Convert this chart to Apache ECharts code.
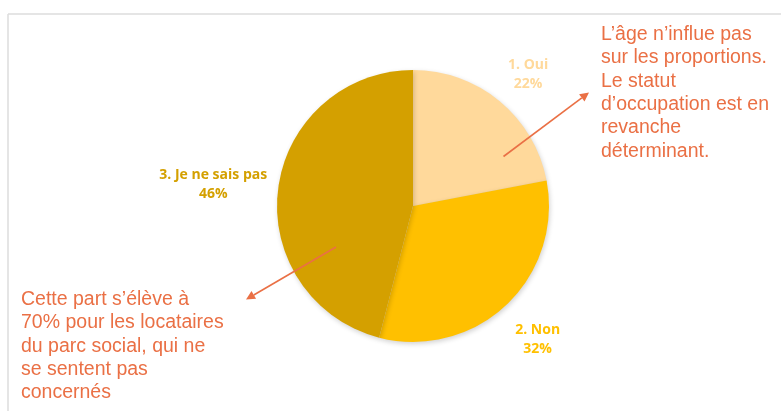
<!DOCTYPE html>
<html>
<head>
<meta charset="utf-8">
<script src="https://cdn.jsdelivr.net/npm/echarts@6/dist/echarts.min.js"></script>
<style>
  html, body { margin: 0; padding: 0; background: #ffffff; }
  #chart { width: 781px; height: 411px; }
</style>
</head>
<body>
<div id="chart"></div>
<script>
// Survey answers (percent of respondents)
const categories = ['1. Oui', '2. Non', '3. Je ne sais pas'];
const shares = [22, 32, 46];
const sliceColors = ['#FFD99B', '#FFC000', '#D4A000'];
const labelColors = ['#FFD99B', '#FFC000', '#D4A000'];

// Side notes
const noteRight = ['L’âge n’influe pas', 'sur les proportions.', 'Le statut', 'd’occupation est en', 'revanche', 'déterminant.'];
const noteLeft = ['Cette part s’élève à', '70% pour les locataires', 'du parc social, qui ne', 'se sentent pas', 'concernés'];

const CX = 413, CY = 206, R = 136;
const LABEL_GAP = 12.5;
const ACCENT = '#EA7045';
const total = shares.reduce((a, b) => a + b, 0);

// Mid angle of a slice, clockwise from 12 o'clock
function midAngle(i) {
  let before = 0;
  for (let k = 0; k < i; k++) before += shares[k];
  return (before + shares[i] / 2) / total * Math.PI * 2;
}

// Straight arrow with a filled triangular head, drawn above the pie
function arrow(x1, y1, x2, y2) {
  const ang = Math.atan2(y2 - y1, x2 - x1);
  const len = 9, half = 4.5;
  const bx = x2 - Math.cos(ang) * len, by = y2 - Math.sin(ang) * len;
  const nx = -Math.sin(ang), ny = Math.cos(ang);
  return [
    { type: 'line', silent: true, z: 100, shape: { x1: x1, y1: y1, x2: bx, y2: by },
      style: { stroke: ACCENT, lineWidth: 1.6 } },
    { type: 'polygon', silent: true, z: 100,
      shape: { points: [[x2, y2], [bx + nx * half, by + ny * half], [bx - nx * half, by - ny * half]] },
      style: { fill: ACCENT } }
  ];
}

const chart = echarts.init(document.getElementById('chart'));

chart.setOption({
  animation: false,
  backgroundColor: '#ffffff',
  graphic: [
    // frame of the chart area
    { type: 'line', silent: true, shape: { x1: 8, y1: 14, x2: 781, y2: 14 }, style: { stroke: '#DCDCDC', lineWidth: 1.5 } },
    { type: 'line', silent: true, shape: { x1: 8, y1: 14, x2: 8, y2: 411 }, style: { stroke: '#DCDCDC', lineWidth: 1.5 } },
    { type: 'text', silent: true, x: 601, y: 23,
      style: { text: noteRight.join('\n'), fill: ACCENT, fontFamily: 'Liberation Sans, Arial, sans-serif',
               fontSize: 19.5, lineHeight: 23.3, verticalAlign: 'top', align: 'left' } },
    { type: 'text', silent: true, x: 21, y: 288,
      style: { text: noteLeft.join('\n'), fill: ACCENT, fontFamily: 'Liberation Sans, Arial, sans-serif',
               fontSize: 19.5, lineHeight: 23.3, verticalAlign: 'top', align: 'left' } }
  ].concat(arrow(503.5, 156.5, 589, 92.5), arrow(336, 247, 246, 299.5)),
  series: [{
    type: 'pie',
    silent: true,
    center: [CX, CY],
    radius: R,
    startAngle: 90,
    clockwise: true,
    data: categories.map((c, i) => ({
      name: c,
      value: shares[i],
      itemStyle: { color: sliceColors[i] },
      label: { color: labelColors[i] }
    })),
    itemStyle: {
      borderWidth: 0,
      shadowBlur: 5,
      shadowColor: 'rgba(0,0,0,0.18)',
      shadowOffsetX: 1,
      shadowOffsetY: 2
    },
    label: {
      show: true,
      position: 'outside',
      formatter: p => p.name + '\n' + p.value + '%',
      fontFamily: 'Open Sans, sans-serif',
      fontWeight: 'bold',
      fontSize: 14,
      lineHeight: 19
    },
    labelLine: { show: false },
    // place each label just outside the rim, centred on the slice's mid angle
    labelLayout: function (p) {
      const a = midAngle(p.dataIndex);
      const dx = Math.sin(a), dy = -Math.cos(a);
      const w = p.labelRect.width, h = p.labelRect.height;
      const d = R + LABEL_GAP + Math.abs(dx) * w / 2 + Math.abs(dy) * h / 2;
      return { x: CX + dx * d + 3, y: CY + dy * d + 4, align: 'center', verticalAlign: 'middle' };
    },
    emphasis: { disabled: true }
  }]
});
</script>
</body>
</html>
